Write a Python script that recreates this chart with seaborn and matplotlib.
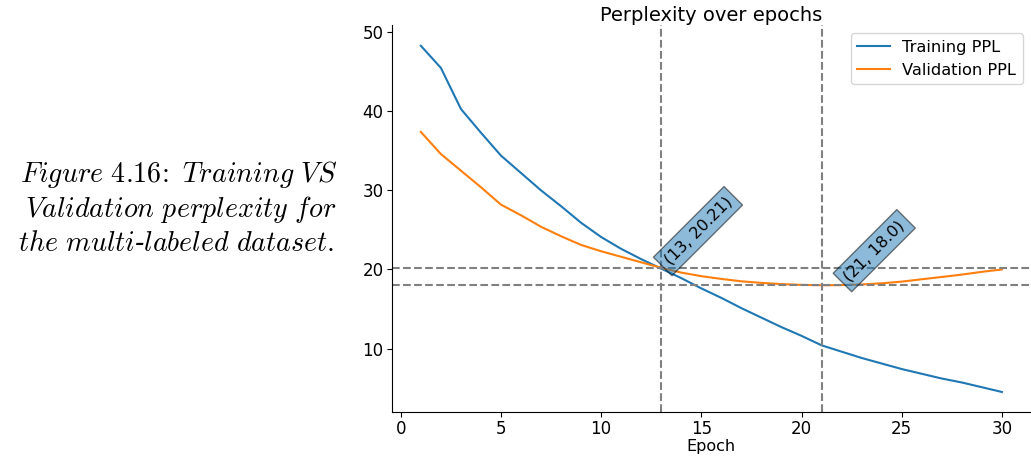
import matplotlib
matplotlib.use("Agg")
import matplotlib.pyplot as plt
import seaborn as sns
import pandas as pd

epochs = list(range(1, 31))
train_ppl = [48.3, 45.5, 40.3, 37.3, 34.4, 32.2, 30.0, 28.0, 25.9, 24.1,
             22.6, 21.3, 20.1, 18.9, 17.6, 16.4, 15.1, 13.9, 12.7, 11.6,
             10.4, 9.6, 8.8, 8.1, 7.4, 6.8, 6.2, 5.7, 5.1, 4.5]
val_ppl = [37.4, 34.6, 32.5, 30.4, 28.2, 26.85, 25.4, 24.2, 23.1, 22.3,
           21.6, 20.9, 20.21, 19.6, 19.15, 18.8, 18.5, 18.3, 18.15, 18.05,
           18.0, 18.02, 18.1, 18.25, 18.46, 18.76, 19.05, 19.35, 19.7, 20.0]
series_labels = ["Training PPL", "Validation PPL"]
cross_epoch, cross_val = 13, 20.21
best_epoch, best_val = 21, 18.0
caption_lines = [r"$\mathit{Figure\ 4.16\!:\ Training\ VS}$",
                 r"$\mathit{Validation\ perplexity\ for}$",
                 r"$\mathit{the\ multi}$-$\mathit{labeled\ dataset.}$"]

plt.rcParams["mathtext.fontset"] = "cm"

fig = plt.figure(figsize=(10.31, 4.58), dpi=100)
ax = fig.add_axes([0.380, 0.101, 0.620, 0.844])

df = pd.DataFrame({"Epoch": epochs, "train": train_ppl, "val": val_ppl})
sns.lineplot(data=df, x="Epoch", y="train", ax=ax, color="tab:blue",
             label=series_labels[0], linewidth=1.5)
sns.lineplot(data=df, x="Epoch", y="val", ax=ax, color="tab:orange",
             label=series_labels[1], linewidth=1.5)

for v in (cross_val, best_val):
    ax.axhline(v, color="gray", linestyle="--", linewidth=1.5)
for e in (cross_epoch, best_epoch):
    ax.axvline(e, color="gray", linestyle="--", linewidth=1.5)

box = dict(facecolor="tab:blue", alpha=0.5)
ax.annotate(f"({cross_epoch}, {cross_val})", xy=(cross_epoch, cross_val),
            xytext=(0, 0), textcoords="offset points", rotation=45,
            ha="left", va="bottom", fontsize=11.5, bbox=box)
ax.annotate(f"({best_epoch}, {best_val})", xy=(best_epoch, best_val),
            xytext=(14, 1), textcoords="offset points", rotation=45,
            ha="left", va="bottom", fontsize=11.5, bbox=box)

ax.set_title("Perplexity over epochs", fontsize=14, pad=3)
ax.set_xlabel("Epoch", fontsize=11.5, labelpad=1)
ax.set_ylabel("")
ax.set_ylim(2.0, 50.9)
ax.set_xticks([0, 5, 10, 15, 20, 25, 30])
ax.set_yticks([10, 20, 30, 40, 50])
ax.tick_params(labelsize=12, pad=2.5)
ax.legend(loc="upper right", fontsize=11.7)
sns.despine(ax=ax)

right_edges = [337, 336, 334]
baselines = [182, 217, 251]
for line, xr, yb in zip(caption_lines, right_edges, baselines):
    fig.text(xr / 1031, 1 - yb / 458, line, ha="right", va="baseline",
             fontsize=20.2, fontstyle="italic", family="DejaVu Serif")

fig.savefig("out.png", dpi=100)
